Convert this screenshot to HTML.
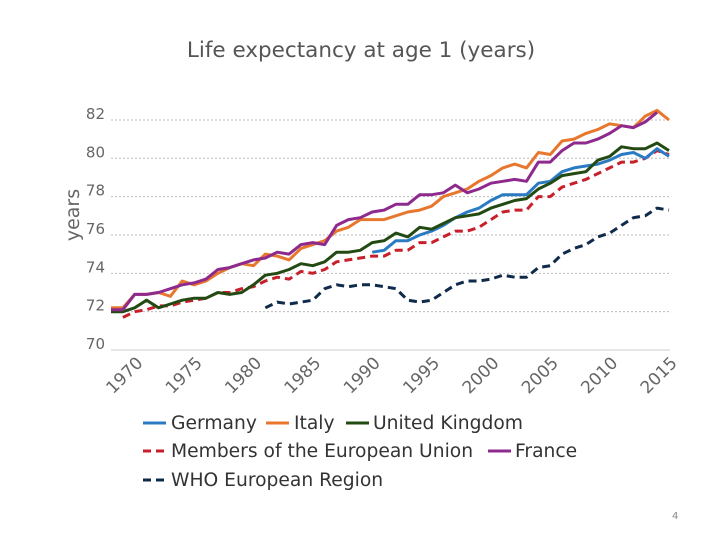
<!DOCTYPE html>
<html><head><meta charset="utf-8"><style>
body{margin:0;background:#fff;width:720px;height:540px;overflow:hidden;font-family:"DejaVu Sans",sans-serif}
</style></head><body>
<svg width="720" height="540" font-family="DejaVu Sans, sans-serif">
<text x="361" y="57" text-anchor="middle" font-size="21.5" fill="#555">Life expectancy at age 1 (years)</text>
<text transform="translate(79,215) rotate(-90)" text-anchor="middle" font-size="19" fill="#666">years</text>
<g id="grid"></g><g id="series"></g><g id="xt"></g>
<g font-size="18.7" fill="#333">
<g><line x1="143" y1="423" x2="166" y2="423" stroke="#2b7bc4" stroke-width="3"/><text x="171" y="429">Germany</text></g>
<g><line x1="266" y1="423" x2="289" y2="423" stroke="#e8772e" stroke-width="3"/><text x="294" y="429">Italy</text></g>
<g><line x1="346" y1="423" x2="369" y2="423" stroke="#234a12" stroke-width="3"/><text x="373" y="429">United Kingdom</text></g>
<g><line x1="143" y1="451" x2="166" y2="451" stroke="#c8202a" stroke-width="3" stroke-dasharray="8,5"/><text x="171" y="457">Members of the European Union</text></g>
<g><line x1="488" y1="451" x2="511" y2="451" stroke="#8e2a8e" stroke-width="3"/><text x="515" y="457">France</text></g>
<g><line x1="143" y1="480" x2="166" y2="480" stroke="#0f2a4a" stroke-width="3" stroke-dasharray="8,5"/><text x="171" y="486">WHO European Region</text></g>
</g>
<text x="672" y="519" font-size="10" fill="#888">4</text>
</svg>
<script>
const yTicks=[70,72,74,76,78,80,82];
const xTicks=[1970,1975,1980,1985,1990,1995,2000,2005,2010,2015];
const italy=[72.2,72.2,72.9,72.9,73.0,72.8,73.6,73.4,73.6,74.0,74.3,74.5,74.4,75.0,74.9,74.7,75.3,75.5,75.7,76.2,76.4,76.8,76.8,76.8,77.0,77.2,77.3,77.5,78.0,78.2,78.4,78.8,79.1,79.5,79.7,79.5,80.3,80.2,80.9,81.0,81.3,81.5,81.8,81.7,81.6,82.2,82.5,82.0];
const france=[72.1,72.1,72.9,72.9,73.0,73.2,73.4,73.5,73.7,74.2,74.3,74.5,74.7,74.8,75.1,75.0,75.5,75.6,75.5,76.5,76.8,76.9,77.2,77.3,77.6,77.6,78.1,78.1,78.2,78.6,78.2,78.4,78.7,78.8,78.9,78.8,79.8,79.8,80.4,80.8,80.8,81.0,81.3,81.7,81.6,81.9,82.4];
const uk=[72.0,72.0,72.2,72.6,72.2,72.4,72.6,72.7,72.7,73.0,72.9,73.0,73.4,73.9,74.0,74.2,74.5,74.4,74.6,75.1,75.1,75.2,75.6,75.7,76.1,75.9,76.4,76.3,76.6,76.9,77.0,77.1,77.4,77.6,77.8,77.9,78.4,78.7,79.1,79.2,79.3,79.9,80.1,80.6,80.5,80.5,80.8,80.4];
const germany=[75.1,75.2,75.7,75.7,76.0,76.2,76.5,76.9,77.2,77.4,77.8,78.1,78.1,78.1,78.7,78.8,79.3,79.5,79.6,79.7,79.9,80.2,80.3,80.0,80.5,80.1];
const eu=[71.7,72.0,72.1,72.3,72.3,72.5,72.6,72.7,73.0,73.0,73.2,73.3,73.6,73.8,73.7,74.1,74.0,74.2,74.6,74.7,74.8,74.9,74.9,75.2,75.2,75.6,75.6,75.9,76.2,76.2,76.4,76.8,77.2,77.3,77.3,78.0,78.0,78.5,78.7,78.9,79.2,79.5,79.8,79.8,80.0,80.4,80.2];
const who=[72.2,72.5,72.4,72.5,72.6,73.2,73.4,73.3,73.4,73.4,73.3,73.2,72.6,72.5,72.6,73.0,73.4,73.6,73.6,73.7,73.9,73.8,73.8,74.3,74.4,75.0,75.3,75.5,75.9,76.1,76.5,76.9,77.0,77.4,77.3];
const NS='http://www.w3.org/2000/svg';
const X=yr=>111+(yr-1968)*(558/47);
const Y=v=>350-(v-70)*19.17;
function mk(t,a,p){const e=document.createElementNS(NS,t);for(const k in a)e.setAttribute(k,a[k]);p.appendChild(e);return e;}
const grid=document.getElementById('grid');
yTicks.forEach(v=>{
 const l=mk('line',{x1:111,x2:670,y1:Y(v),y2:Y(v),stroke:v===70?'#ccc':'#bbb','stroke-dasharray':v===70?'':'2,2','stroke-width':1},grid);
 
 
 const t=mk('text',{x:105,y:Y(v)-1,'text-anchor':'end','font-size':15,fill:'#666'},grid);t.textContent=v;
 
 
});
const xt=document.getElementById('xt');
xTicks.forEach(yr=>{
 const t=mk('text',{transform:`translate(${X(yr)+9},${364}) rotate(-45)`,'text-anchor':'end','font-size':17,fill:'#666'},xt);t.textContent=yr;
 
 
});
const sg=document.getElementById('series');
function draw(arr,start,color,dash,name){
 const pts=arr.map((v,i)=>X(start+i).toFixed(1)+','+Y(v).toFixed(1)).join(' ');
 const p=mk('polyline',{points:pts,fill:'none',stroke:color,'stroke-width':3,'stroke-linejoin':'round','stroke-dasharray':dash},sg);
 
 
}
draw(who,1981,'#0f2a4a','8,5','series-who-europe');
draw(eu,1969,'#c8202a','8,5','series-eu');
draw(germany,1990,'#2b7bc4','','series-germany');
draw(uk,1968,'#234a12','','series-uk');
draw(italy,1968,'#e8772e','','series-italy');
draw(france,1968,'#8e2a8e','','series-france');
</script>
</body></html>
